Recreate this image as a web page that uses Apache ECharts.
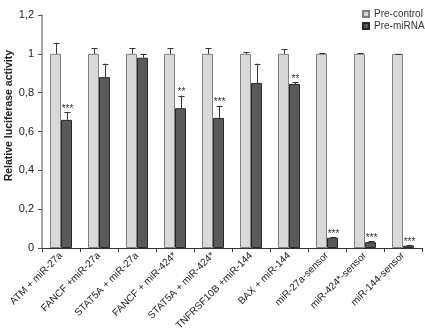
<!DOCTYPE html>
<html>
<head>
<meta charset="utf-8">
<script src="https://cdn.jsdelivr.net/npm/echarts@6/dist/echarts.min.js"></script>
<style>
  html, body { margin: 0; padding: 0; background: #fff; }
  #chart { width: 425px; height: 334px; }
</style>
</head>
<body>
<div id="chart"></div>
<script>
// categories and values
var categories = ['ATM + miR-27a', 'FANCF +miR-27a', 'STAT5A + miR-27a', 'FANCF + miR-424*',
  'STAT5A + miR-424*', 'TNFRSF10B +miR-144', 'BAX + miR-144', 'miR-27a-sensor',
  'miR-424*-sensor', 'miR-144-sensor'];
var controlValues = [1, 1, 1, 1, 1, 1, 1, 1, 1, 1];
var controlErr = [0.057, 0.03, 0.03, 0.03, 0.03, 0.01, 0.025, 0.003, 0.002, 0.001];
var mirnaValues = [0.66, 0.88, 0.98, 0.72, 0.67, 0.85, 0.845, 0.053, 0.03, 0.012];
var mirnaErr = [0.04, 0.07, 0.02, 0.065, 0.063, 0.1, 0.01, 0.004, 0.004, 0.004];
var stars = ['***', '', '', '**', '***', '', '**', '***', '***', '***'];
var yTicks = [0, 0.2, 0.4, 0.6, 0.8, 1, 1.2];

var barW = 11;
var font = 'Liberation Sans, Arial, sans-serif';

// whisker (upper half only) + significance stars
function errorSeries(values, errs, side, withStars) {
    var data = values.map(function (v, i) { return [i, v, v + errs[i], withStars ? stars[i] : '']; });
    return {
        type: 'custom',
        z: 5,
        silent: true,
        data: data,
        renderItem: function (params, api) {
            var base = api.coord([api.value(0), api.value(1)]);
            var top = api.coord([api.value(0), api.value(2)]);
            var x = Math.round(base[0] + side * barW / 2) + 0.5;
            var children = [
                { type: 'line', shape: { x1: x, y1: base[1], x2: x, y2: top[1] }, style: { stroke: '#333', lineWidth: 1 } },
                { type: 'line', shape: { x1: x - 3, y1: Math.round(top[1]) + 0.5, x2: x + 3, y2: Math.round(top[1]) + 0.5 }, style: { stroke: '#333', lineWidth: 1 } }
            ];
            var s = data[params.dataIndex][3];
            if (s) {
                children.push({
                    type: 'text',
                    style: { text: s, x: x, y: top[1] + 2, align: 'center', verticalAlign: 'bottom',
                        font: '10px ' + font, fill: '#333' }
                });
            }
            return { type: 'group', children: children };
        }
    };
}

var chart = echarts.init(document.getElementById('chart'));
chart.setOption({
    animation: false,
    textStyle: { fontFamily: font },
    grid: { left: 42, right: 3, top: 15, bottom: 86 },
    legend: {
        orient: 'vertical', left: 362, top: 8, padding: 0, itemWidth: 6, itemHeight: 6, itemGap: 0,
        icon: 'rect',
        textStyle: { fontSize: 10, lineHeight: 12, color: '#333', fontFamily: font },
        data: ['Pre-control', 'Pre-miRNA']
    },
    graphic: [{
        type: 'text', left: 4, top: 50,
        rotation: Math.PI / 2,
        style: { text: 'Relative luciferase activity', font: 'bold 10.5px ' + font, fill: '#222' }
    }],
    xAxis: {
        type: 'category',
        data: categories,
        axisLine: { lineStyle: { color: '#333' } },
        axisTick: { show: true, length: 4, lineStyle: { color: '#333' } },
        axisLabel: { rotate: 45, fontSize: 10, color: '#222', margin: 6, padding: [10, 0, 0, 0], interval: 0 }
    },
    yAxis: {
        type: 'value', min: yTicks[0], max: yTicks[yTicks.length - 1], interval: 0.2,
        axisLine: { show: true, lineStyle: { color: '#888', width: 1.5 } },
        axisTick: { show: true, length: 4, lineStyle: { color: '#555' } },
        splitLine: { show: false },
        axisLabel: {
            fontSize: 11, color: '#222', margin: 8,
            formatter: function (v) { return String(+v.toFixed(1)).replace('.', ','); }
        }
    },
    series: [
        { name: 'Pre-control', type: 'bar', data: controlValues, barWidth: barW, barGap: '0%',
          itemStyle: { color: '#d9d9d9', borderColor: '#808080', borderWidth: 1 } },
        { name: 'Pre-miRNA', type: 'bar', data: mirnaValues, barWidth: barW,
          itemStyle: { color: '#595959', borderColor: '#2a2a2a', borderWidth: 1 } },
        errorSeries(controlValues, controlErr, -1, false),
        errorSeries(mirnaValues, mirnaErr, 1, true)
    ]
});
</script>
</body>
</html>
